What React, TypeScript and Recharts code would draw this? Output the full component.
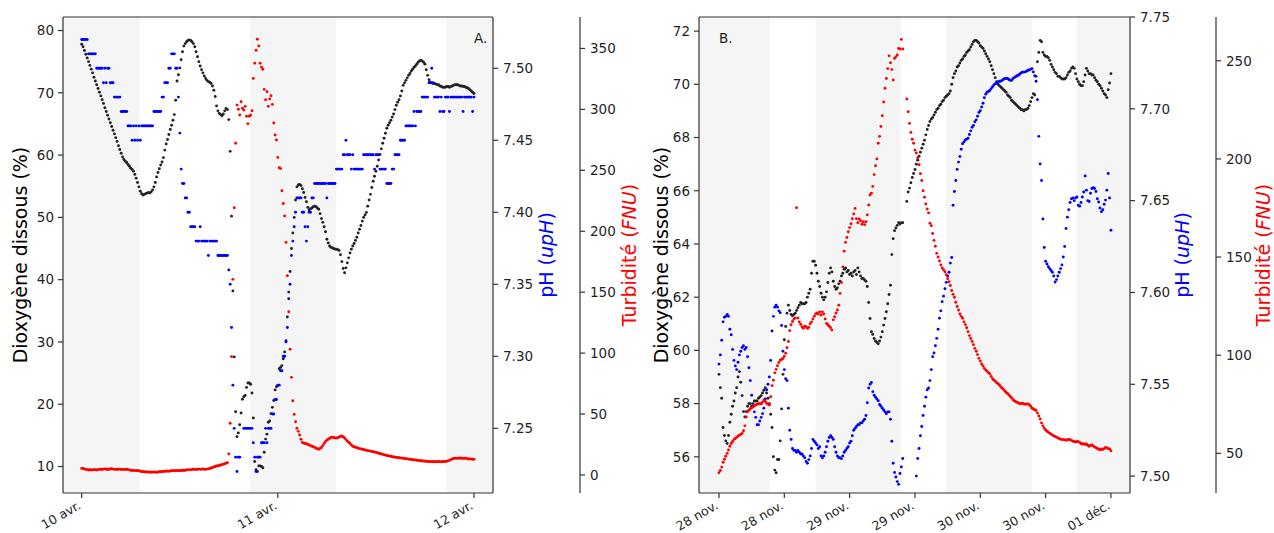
import React from "react";
import { ComposedChart, Scatter, XAxis, YAxis, ReferenceArea } from "recharts";

const FONT = "DejaVu Sans";
const INK = "#1f1f1f";
const FRAME = "#333";
const NIGHT = "#f5f5f5";

// ---- A : 10 -> 12 avril, one reading every 10 min (hours since 10 avr. 00:00)
const stepA = 1 / 6;
const o2A = [
  77.8, 77.4, 76.8, 76.2, 75.6, 75.0, 74.4, 73.8, 73.2, 72.5,
  71.9, 71.3, 70.7, 70.1, 69.5, 68.9, 68.3, 67.6, 67.0, 66.4,
  65.8, 65.2, 64.6, 64.0, 63.4, 62.8, 62.2, 61.5, 60.9, 60.3,
  59.7, 59.3, 59.0, 58.8, 58.5, 58.2, 57.9, 57.7, 57.4, 56.9,
  56.3, 55.6, 54.9, 54.2, 53.8, 53.6, 53.7, 53.8, 53.9, 54.0,
  53.9, 54.1, 54.4, 54.9, 55.6, 56.5, 57.2, 57.8, 58.4, 58.9,
  59.6, 60.8, 61.8, 62.5, 63.3, 64.1, 64.8, 65.6, 66.5, 68.8,
  71.9, 72.9, 74.0, 75.3, 76.6, 77.5, 77.9, 78.2, 78.4, 78.5,
  78.4, 78.2, 77.9, 77.4, 76.6, 75.8, 75.0, 74.3, 73.7, 73.2,
  72.7, 72.3, 72.0, 71.8, 71.7, 71.5, 71.1, 70.4, 69.4, 67.9,
  67.1, 66.7, 66.5, 66.3, 66.6, 67.1, 67.5, 67.3, 65.7, 60.6,
  50.2, 38.2, 27.6, 18.8, 14.8, 15.4, 16.7, 18.6, 20.8, 21.2,
  21.4, 22.7, 23.4, 23.4, 23.2, 21.8, 17.8, 10.8, 9.5, 9.2,
  10.1, 10.1, 10.0, 9.8, 12.3, 14.4, 15.2, 17.1, 17.3, 18.5,
  19.5, 20.6, 22.3, 22.8, 23.0, 25.7, 25.9, 26.2, 27.3, 28.4,
  30.2, 34.0, 38.0, 41.3, 45.0, 47.5, 50.0, 52.8, 54.9, 55.2,
  55.3, 55.1, 54.6, 54.0, 53.2, 52.5, 51.6, 51.2, 51.4, 51.5,
  51.7, 51.8, 51.7, 51.5, 51.3, 50.6, 49.8, 49.2, 48.5, 47.7,
  46.5, 45.9, 45.4, 45.2, 45.1, 45.0, 44.9, 44.9, 44.8, 44.7,
  44.0, 42.9, 41.8, 41.1, 41.9, 42.7, 43.5, 44.3, 44.9, 45.4,
  45.8, 46.3, 46.8, 47.5, 48.1, 48.7, 49.4, 50.0, 50.4, 50.8,
  51.8, 52.8, 53.7, 54.8, 55.8, 56.6, 57.4, 58.2, 59.2, 60.1,
  61.0, 61.9, 62.7, 63.5, 64.3, 64.8, 65.2, 65.6, 66.1, 66.6,
  67.3, 68.0, 68.5, 68.9, 69.5, 70.3, 71.2, 71.6, 72.0, 72.4,
  72.8, 73.1, 73.5, 73.8, 74.1, 74.3, 74.6, 74.9, 75.1, 75.2,
  75.1, 74.9, 74.6, 73.7, 72.8, 72.1, 71.7, 71.6, 71.5, 71.5,
  71.4, 71.3, 71.3, 71.1, 71.0, 70.9, 70.9, 70.9, 71.0, 71.0,
  70.9, 71.0, 71.1, 71.2, 71.3, 71.3, 71.3, 71.2, 71.1, 71.1,
  71.0, 71.0, 70.9, 70.8, 70.7, 70.5, 70.3, 70.1, 69.9,
];
const phA = [
  7.52, 7.52, 7.52, 7.52, 7.52, 7.51, 7.51, 7.51, 7.51, 7.51,
  7.51, 7.50, 7.50, 7.50, 7.50, 7.50, 7.49, 7.50, 7.49, 7.50,
  7.50, 7.49, 7.49, 7.49, 7.48, 7.48, 7.48, 7.48, 7.48, 7.47,
  7.47, 7.47, 7.47, 7.47, 7.46, 7.46, 7.46, 7.45, 7.46, 7.45,
  7.46, 7.45, 7.46, 7.45, 7.46, 7.46, 7.46, 7.46, 7.46, 7.46,
  7.46, 7.46, 7.46, 7.47, 7.47, 7.47, 7.47, 7.47, 7.47, 7.48,
  7.48, 7.49, 7.49, 7.49, 7.50, 7.50, 7.51, 7.51, 7.51, 7.50,
  7.50, 7.48, 7.455, 7.43, 7.42, 7.42, 7.41, 7.41, 7.40, 7.40,
  7.39, 7.39, 7.39, 7.39, 7.38, 7.38, 7.38, 7.39, 7.38, 7.38,
  7.38, 7.38, 7.38, 7.37, 7.38, 7.38, 7.38, 7.38, 7.38, 7.38,
  7.37, 7.37, 7.37, 7.37, 7.37, 7.37, 7.37, 7.37, 7.36, 7.35,
  7.32, 7.28, 7.25, 7.23, 7.22, 7.23, 7.23, null, null, 7.25,
  7.25, 7.25, 7.25, 7.25, 7.25, 7.25, 7.24, 7.23, 7.22, 7.23,
  7.23, 7.23, 7.24, 7.24, 7.24, 7.25, 7.24, 7.25, 7.25, 7.25,
  7.26, 7.26, 7.27, 7.27, 7.28, 7.28, 7.29, 7.29, 7.30, 7.30,
  7.31, 7.32, 7.34, 7.35, 7.37, 7.38, 7.39, 7.40, 7.41, 7.41,
  7.41, 7.41, 7.40, 7.40, 7.39, 7.38, 7.39, 7.40, 7.40, 7.41,
  7.41, 7.42, 7.42, 7.42, 7.42, 7.42, 7.42, 7.42, 7.42, 7.42,
  7.41, 7.42, 7.42, 7.42, 7.42, 7.42, 7.42, 7.43, 7.43, 7.43,
  7.43, 7.43, 7.44, 7.44, 7.45, 7.44, 7.44, 7.44, 7.43, 7.44,
  7.43, 7.43, 7.43, 7.43, 7.43, 7.43, 7.43, 7.44, 7.44, 7.44,
  7.44, 7.44, 7.44, 7.44, 7.44, 7.43, 7.44, 7.44, 7.44, 7.43,
  7.43, 7.43, 7.43, 7.43, 7.42, 7.42, 7.42, 7.42, 7.43, 7.43,
  7.44, 7.44, 7.44, 7.44, 7.45, 7.45, 7.45, 7.45, 7.46, 7.46,
  7.46, 7.46, 7.46, 7.46, 7.47, 7.46, 7.47, 7.47, 7.47, 7.47,
  7.48, 7.48, 7.48, 7.48, 7.48, 7.49, 7.49, 7.50, 7.49, 7.48,
  7.48, 7.48, 7.48, 7.47, 7.48, 7.47, 7.47, 7.48, 7.48, 7.48,
  7.47, 7.48, 7.48, 7.48, 7.48, 7.48, 7.48, 7.48, 7.48, 7.48,
  7.47, 7.48, 7.48, 7.48, 7.48, 7.48, 7.48, 7.47, 7.48,
];
const turbA = [
  5.4, 5.3, 4.9, 4.6, 4.3, 4.1, 4.3, 4.1, 4.2, 4.4,
  4.3, 4.1, 4.4, 4.6, 4.7, 4.5, 4.8, 5.0, 4.7, 4.5,
  4.7, 4.9, 5.1, 4.8, 4.6, 4.7, 4.5, 4.7, 4.8, 4.5,
  4.4, 4.6, 4.5, 4.7, 4.4, 4.2, 3.9, 3.7, 3.8, 3.6,
  3.5, 3.7, 3.4, 3.1, 2.9, 2.7, 2.6, 2.5, 2.4, 2.3,
  2.4, 2.2, 2.3, 2.5, 2.3, 2.1, 2.4, 2.7, 2.6, 2.9,
  2.8, 3.0, 3.2, 3.0, 3.1, 3.3, 3.5, 3.4, 3.6, 3.4,
  3.7, 3.6, 3.5, 3.7, 3.9, 3.7, 3.9, 4.1, 4.2, 4.4,
  4.2, 4.5, 4.7, 4.6, 4.4, 4.7, 4.8, 4.6, 4.7, 4.9,
  4.7, 4.6, 4.8, 5.0, 5.3, 5.7, 6.1, 6.5, 6.9, 7.4,
  7.5, 7.8, 8.2, 8.5, 8.8, 9.2, 9.6, 10.1, 17.3, 42.4,
  97.1, 160.5, 219.3, 272.2, 303.5, 300.1, 295.4, 306.3, 300.9, 299.4,
  302.5, 294.3, 288.2, 294.3, 295.4, 298.9, 325.4, 337.8, 348.5, 357.5,
  352.0, 337.8, 334.7, 332.9, 316.4, 307.9, 314.5, 302.5, 308.6, 311.2,
  304.1, 288.8, 279.0, 274.9, 260.6, 252.1, 251.4, 233.2, 222.8, 212.6,
  190.9, 163.5, 133.9, 103.2, 80.1, 60.9, 49.7, 43.7, 38.3, 35.8,
  32.8, 29.3, 26.6, 26.1, 25.8, 25.6, 25.0, 24.6, 24.1, 23.6,
  23.2, 22.7, 22.0, 21.5, 21.1, 21.8, 22.5, 24.1, 25.8, 27.4,
  28.6, 29.3, 30.0, 30.7, 30.9, 30.7, 30.4, 30.2, 30.6, 31.1,
  31.6, 32.0, 31.2, 30.3, 29.0, 27.8, 26.8, 25.8, 24.7, 23.5,
  23.1, 22.8, 22.4, 22.0, 21.6, 21.4, 21.1, 20.9, 20.5, 20.2,
  20.0, 19.8, 19.6, 19.3, 19.0, 18.8, 18.5, 18.2, 17.8, 17.5,
  17.2, 16.9, 16.6, 16.3, 16.0, 15.8, 15.5, 15.3, 15.0, 14.8,
  14.6, 14.4, 14.3, 14.1, 14.0, 13.8, 13.7, 13.5, 13.3, 13.2,
  13.0, 12.9, 12.7, 12.5, 12.4, 12.3, 12.1, 12.0, 11.8, 11.7,
  11.5, 11.4, 11.3, 11.2, 11.1, 11.0, 10.9, 11.0, 10.9, 10.8,
  10.9, 10.8, 11.0, 10.9, 10.8, 10.9, 11.0, 11.1, 11.3, 11.6,
  12.0, 12.6, 13.1, 13.5, 13.7, 13.8, 13.6, 13.8, 13.9, 13.7,
  13.6, 13.8, 13.6, 13.3, 13.1, 13.2, 13.0, 12.9, 12.9,
];
const nightsA = [[null, 7.1], [20.6, 31.1], [44.6, null]];
const dateTicksA = [0, 24, 48];
const dateLabelsA = ["10 avr.", "11 avr.", "12 avr."];
const o2TicksA = [10, 20, 30, 40, 50, 60, 70, 80];
const phTicksA = [7.25, 7.3, 7.35, 7.4, 7.45, 7.5];
const turbTicksA = [0, 50, 100, 150, 200, 250, 300, 350];

// ---- B : 28 nov. -> 01 déc., one reading every 15 min
const stepB = 0.25;
const o2B = [
  59.1, 58.6, 58.2, 57.1, 56.8, 56.6, 56.5, 56.8, 57.3, 57.6,
  57.9, 58.1, 58.4, 58.6, 59.0, 59.2, 58.8, 58.3, 57.7, 57.5,
  57.7, 57.9, 58.0, 58.0, 57.9, 58.0, 58.1, 58.1, 58.1, 58.2,
  58.25, 58.3, 58.4, 58.5, 58.6, 58.4, 58.2, 58.0, 57.6, 57.1,
  56.0, 55.5, 55.4, 55.9, 55.9, 56.6, 57.8, 59.1, 60.4, 60.9,
  61.4, 61.7, 61.5, 61.35, 61.3, 61.35, 61.4, 61.5, 61.6, 61.7,
  61.8, 61.75, 61.75, 61.75, 61.8, 62.0, 62.15, 62.3, 62.9, 63.35,
  63.35, 63.2, 62.9, 62.6, 62.4, 62.15, 62.0, 61.9, 62.0, 62.2,
  62.55, 62.9, 63.1, 62.95, 62.6, 62.4, 62.3, 62.35, 62.5, 62.6,
  62.8, 62.9, 63.05, 63.1, 62.95, 63.0, 62.85, 62.9, 62.8, 62.95,
  63.0, 62.85, 63.1, 62.95, 62.8, 62.7, 62.7, 62.65, 62.6, 62.4,
  61.8, 61.2, 60.7, 60.6, 60.45, 60.35, 60.3, 60.25, 60.35, 60.5,
  60.7, 60.95, 61.2, 61.45, 61.75, 62.1, 62.45, 63.6, 64.2, 64.5,
  64.6, 64.7, 64.8, 64.75, 64.8, 64.8, null, null, 65.6, 65.95,
  66.1, 66.3, 66.5, 66.65, 66.8, 67.0, 67.15, 67.3, 67.45, 67.6,
  67.75, 67.9, 68.1, 68.3, 68.45, 68.6, 68.7, 68.75, 68.85, 68.95,
  69.05, 69.1, 69.2, 69.25, 69.35, 69.4, 69.5, 69.55, 69.6, 69.65,
  69.75, 70.0, 70.25, 70.4, 70.5, 70.65, 70.7, 70.8, 70.9, 70.95,
  71.05, 71.1, 71.2, 71.25, 71.3, 71.4, 71.5, 71.6, 71.65, 71.65,
  71.6, 71.55, 71.45, 71.4, 71.35, 71.25, 71.15, 71.05, 70.95, 70.85,
  70.7, 70.55, 70.4, 70.25, 70.1, 70.0, 69.95, 69.9, 69.85, 69.8,
  69.75, 69.7, 69.6, 69.55, 69.5, 69.4, 69.35, 69.3, 69.25, 69.2,
  69.15, 69.1, 69.05, 69.05, 69.0, 69.05, 69.05, 69.1, 69.2, 69.35,
  69.5, 69.65, 69.6, 70.3, 70.85, 71.2, 71.65, 71.6, 71.2, 71.1,
  71.05, 71.05, 71.0, 70.9, 70.75, 70.65, 70.55, 70.45, 70.4, 70.3,
  70.3, 70.25, 70.2, 70.2, 70.2, 70.25, 70.35, 70.45, 70.5, 70.6,
  70.65, 70.6, 70.4, 70.2, 70.1, 70.0, 69.95, 69.95, 70.1, 70.35,
  70.6, 70.5, 70.4, 70.4, 70.35, 70.35, 70.25, 70.15, 70.1, 70.0,
  69.95, 69.85, 69.75, 69.65, 69.6, 69.5, 69.8, 70.05, 70.4,
];
const phB = [
  7.561, 7.566, 7.574, 7.584, 7.5865, 7.587, 7.588, 7.587, 7.58, 7.577,
  7.569, 7.563, 7.56, 7.558, 7.562, 7.566, 7.568, 7.57, 7.571, 7.569,
  7.57, 7.565, 7.559, 7.552, 7.544, 7.538, 7.535, 7.532, 7.528, 7.528,
  7.53, 7.532, 7.534, 7.537, 7.542, 7.547, 7.55, 7.554, 7.563, 7.579,
  7.587, 7.592, 7.593, 7.592, 7.59, 7.589, 7.582, 7.568, 7.558, 7.553,
  7.552, 7.537, 7.525, 7.52, 7.515, 7.514, 7.514, 7.513, 7.514, 7.513,
  7.512, 7.512, 7.511, 7.51, 7.508, 7.507, 7.509, 7.511, 7.515, 7.52,
  7.519, 7.518, 7.517, 7.515, 7.516, 7.511, 7.51, 7.511, 7.513, 7.516,
  7.519, 7.521, 7.522, 7.521, 7.52, 7.516, 7.513, 7.511, 7.51, 7.51,
  7.5095, 7.511, 7.513, 7.514, 7.515, 7.516, 7.518, 7.519, 7.522, 7.525,
  7.526, 7.527, 7.528, 7.528, 7.529, 7.529, 7.53, 7.531, 7.533, 7.54,
  7.548, 7.55, 7.551, 7.546, 7.544, 7.543, 7.542, 7.541, 7.539, 7.538,
  7.537, 7.536, 7.535, 7.534, 7.535, 7.535, 7.531, 7.519, 7.507, 7.502,
  7.4995, 7.497, 7.4955, 7.5014, 7.505, 7.5096, null, null, null, null,
  null, null, null, null, null, 7.5, 7.5096, 7.515, 7.522, 7.527,
  7.533, 7.538, 7.543, 7.547, 7.548, 7.552, 7.558, 7.565, 7.567, 7.571,
  7.575, 7.58, 7.586, 7.59, 7.595, 7.598, 7.602, 7.6055, 7.609, 7.611,
  7.616, 7.619, 7.6475, 7.655, 7.661, 7.667, 7.671, 7.674, 7.678, 7.681,
  7.682, 7.683, 7.6835, 7.684, 7.686, 7.688, 7.69, 7.691, 7.693, 7.694,
  7.696, 7.698, 7.699, 7.701, 7.703, 7.706, 7.708, 7.709, 7.7095, 7.71,
  7.711, 7.712, 7.713, 7.7137, 7.714, 7.7146, 7.715, 7.715, 7.7155, 7.716,
  7.7165, 7.7165, 7.7165, 7.716, 7.7155, 7.7155, 7.7165, 7.717, 7.7175, 7.718,
  7.7183, 7.719, 7.7195, 7.72, 7.72, 7.7201, 7.7205, 7.721, 7.7212, 7.7215,
  7.7219, 7.7201, 7.718, 7.715, 7.705, 7.685, 7.67, 7.661, 7.64, 7.6245,
  7.617, 7.6155, 7.614, 7.613, 7.612, 7.611, 7.609, 7.6057, 7.607, 7.609,
  7.611, 7.613, 7.615, 7.6193, 7.625, 7.6348, 7.641, 7.645, 7.649, 7.651,
  7.6515, 7.65, 7.6515, 7.652, 7.6475, 7.647, 7.649, 7.652, 7.6547, 7.6634,
  7.6557, 7.65, 7.6495, 7.654, 7.6566, 7.657, 7.6566, 7.655, 7.651, 7.6493,
  7.646, 7.644, 7.645, 7.648, 7.6503, 7.6557, 7.6648, 7.6515, 7.6339,
];
const turbB = [
  40.1, 41.3, 43.0, 45.5, 47.0, 48.5, 50.0, 51.7, 53.6, 55.0,
  56.0, 57.1, 57.6, 58.2, 58.8, 59.3, 59.6, 60.2, 61.5, 64.0,
  68.5, 71.2, 72.0, 72.7, 73.2, 73.6, 74.2, 74.6, 75.0, 75.3,
  75.4, 75.2, 76.0, 77.2, 76.5, 75.5, 75.0, 74.6, 78.8, 84.5,
  87.3, 91.0, 92.8, 94.6, 96.3, 97.5, 97.8, 98.3, 99.4, 101.0,
  103.8, 107.0, 112.5, 115.5, 117.2, 118.4, 119.0, 175.1, 119.0, 117.0,
  115.8, 114.5, 113.7, 114.8, 114.5, 113.7, 114.2, 116.0, 117.0, 118.5,
  119.8, 121.0, 121.5, 121.0, 122.1, 120.5, 122.1, 121.0, 118.5, 116.2,
  115.5, 114.8, 114.0, 112.8, 118.0, 119.6, 121.5, 123.0, 125.5, 131.5,
  137.0, 145.0, 153.0, 157.5, 160.0, 162.9, 165.0, 167.0, 169.5, 172.0,
  174.8, 169.5, 167.5, 169.4, 168.5, 166.7, 168.0, 166.5, 168.0, 171.5,
  176.5, 181.6, 182.5, 186.0, 192.0, 196.5, 200.0, 208.0, 211.5, 216.5,
  222.0, 229.0, 236.0, 241.0, 246.0, 252.5, 249.0, 245.5, 240.2, 251.2,
  252.0, 253.0, 256.3, 256.0, 260.9, 256.0, null, null, 230.5, 224.0,
  218.1, 213.5, 210.0, 208.0, 204.5, 203.0, 200.5, 197.0, 192.5, 189.0,
  183.8, 180.5, 177.0, 174.5, 172.5, 167.2, 166.0, 162.0, 158.5, 155.5,
  151.9, 150.0, 148.0, 146.0, 144.5, 143.5, 142.5, 141.0, 139.0, 137.4,
  135.5, 133.0, 131.0, 129.5, 127.0, 124.8, 123.0, 121.0, 119.8, 118.8,
  117.0, 115.6, 114.0, 112.0, 110.0, 108.5, 107.0, 105.3, 103.5, 102.0,
  100.3, 98.4, 97.0, 95.5, 94.5, 93.3, 92.4, 91.8, 91.0, 90.5,
  89.2, 88.0, 87.3, 86.8, 86.0, 85.5, 84.8, 84.0, 83.2, 82.6,
  81.8, 81.0, 80.5, 79.8, 79.0, 78.2, 77.3, 76.8, 76.3, 76.0,
  75.6, 75.4, 75.3, 75.5, 75.2, 75.0, 75.2, 75.1, 74.8, 74.0,
  73.0, 72.6, 72.3, 71.8, 70.5, 69.0, 67.5, 65.5, 64.0, 62.8,
  61.9, 61.3, 60.8, 60.3, 59.8, 59.3, 58.9, 58.6, 58.2, 57.9,
  57.5, 57.2, 57.1, 57.0, 56.9, 56.7, 56.9, 57.1, 56.9, 56.6,
  56.2, 56.0, 55.7, 56.1, 55.9, 55.6, 55.0, 54.6, 54.9, 54.5,
  54.8, 54.1, 53.6, 54.0, 54.3, 53.8, 53.2, 52.9, 52.5, 52.1,
  51.8, 52.2, 51.9, 52.4, 53.0, 52.8, 52.4, 52.3, 51.3,
];
const nightsB = [[null, 9.4], [17.75, 33.4], [41.7, 57.55], [65.75, null]];
const dateTicksB = [0, 12, 24, 36, 48, 60, 72];
const dateLabelsB = ["28 nov.", "28 nov.", "29 nov.", "29 nov.", "30 nov.", "30 nov.", "01 déc."];
const o2TicksB = [56, 58, 60, 62, 64, 66, 68, 70, 72];
const phTicksB = [7.5, 7.55, 7.6, 7.65, 7.7, 7.75];
const turbTicksB = [50, 100, 150, 200, 250];

function points(values, step) {
  const out = [];
  values.forEach((v, i) => {
    if (v != null) out.push({ t: i * step, v });
  });
  return out;
}

const dot = (fill) => (p) => <circle cx={p.cx} cy={p.cy} r={1.45} fill={fill} />;

function DateTick({ x, y, payload, ticks, labels }) {
  const label = labels[ticks.indexOf(payload.value)];
  const px = x;
  const py = y + 8;
  return (
    <text x={px} y={py} textAnchor="end" transform={`rotate(-30 ${px} ${py})`}
      fontSize={12.5} fontFamily={FONT} fill={INK}>
      {label}
    </text>
  );
}

const tickStyle = { fill: INK, fontSize: 13.5, fontFamily: FONT };
const line = { stroke: FRAME, strokeWidth: 1.2 };

function Panel(p) {
  return (
    <div style={{ position: "absolute", left: p.left, top: 0 }}>
      <ComposedChart width={p.width} height={533} margin={{ top: 16, right: 0, bottom: 0, left: 0 }}>
        <XAxis xAxisId="t" dataKey="t" type="number" domain={p.xDomain} allowDataOverflow
          ticks={p.dateTicks} interval={0} height={40} tickSize={5} tickMargin={2}
          tickLine={line} axisLine={line}
          tick={<DateTick ticks={p.dateTicks} labels={p.dateLabels} />} />
        <XAxis xAxisId="top" orientation="top" type="number" domain={p.xDomain} allowDataOverflow
          height={1} tick={false} tickLine={false} axisLine={line} />
        <YAxis yAxisId="o2" type="number" domain={p.o2Domain} allowDataOverflow ticks={p.o2Ticks}
          interval={0} width={p.o2W} tickSize={5} tickMargin={4} tick={tickStyle}
          tickLine={line} axisLine={line} />
        <YAxis yAxisId="ph" orientation="right" type="number" domain={p.phDomain} allowDataOverflow
          ticks={p.phTicks} interval={0} width={p.phW} tickSize={5} tickMargin={5} tick={tickStyle}
          tickLine={line} axisLine={line} tickFormatter={(v) => v.toFixed(2)} />
        <YAxis yAxisId="turb" orientation="right" type="number" domain={p.turbDomain} allowDataOverflow
          ticks={p.turbTicks} interval={0} width={p.turbW} tickSize={5} tickMargin={5} tick={tickStyle}
          tickLine={line} axisLine={line} />
        {p.nights.map(([a, b], k) => (
          <ReferenceArea key={k} xAxisId="t" yAxisId="o2" x1={a ?? p.xDomain[0]} x2={b ?? p.xDomain[1]}
            fill={NIGHT} fillOpacity={1} stroke="none" />
        ))}
        <Scatter xAxisId="t" yAxisId="o2" data={points(p.o2, p.step)} dataKey="v"
          shape={dot("#222")} isAnimationActive={false} />
        <Scatter xAxisId="t" yAxisId="ph" data={points(p.ph, p.step)} dataKey="v"
          shape={dot("#0000ff")} isAnimationActive={false} />
        <Scatter xAxisId="t" yAxisId="turb" data={points(p.turb, p.step)} dataKey="v"
          shape={dot("#ff0000")} isAnimationActive={false} />
      </ComposedChart>
    </div>
  );
}

function Title({ x, children, fill = "#000" }) {
  return (
    <text transform={`translate(${x} 255) rotate(-90)`} textAnchor="middle" fontSize={19}
      fontFamily={FONT} fill={fill}>
      {children}
    </text>
  );
}

export default function App() {
  return (
    <div style={{ position: "fixed", left: 0, top: 0, width: 1274, height: 533, background: "#fff" }}>
      <Panel left={0} width={640} step={stepA} o2={o2A} ph={phA} turb={turbA}
        xDomain={[-2.29, 50.33]} nights={nightsA} dateTicks={dateTicksA} dateLabels={dateLabelsA}
        o2Domain={[5.75, 82.17]} o2Ticks={o2TicksA} phDomain={[7.2051, 7.5356]} phTicks={phTicksA}
        turbDomain={[-14.8, 375.8]} turbTicks={turbTicksA} o2W={63} phW={87} turbW={60} />
      <Panel left={640} width={634} step={stepB} o2={o2B} ph={phB} turb={turbB}
        xDomain={[-3.67, 75.5]} nights={nightsB} dateTicks={dateTicksB} dateLabels={dateLabelsB}
        o2Domain={[54.64, 72.53]} o2Ticks={o2TicksB} phDomain={[7.4908, 7.75]} phTicks={phTicksB}
        turbDomain={[29.8, 272.3]} turbTicks={turbTicksB} o2W={59} phW={86} turbW={58} />
      <svg width={1274} height={533} style={{ position: "absolute", left: 0, top: 0, pointerEvents: "none" }}>
        <Title x={27}>Dioxygène dissous (%)</Title>
        <Title x={553} fill="#0000ff">pH (<tspan fontStyle="italic">upH</tspan>)</Title>
        <Title x={636} fill="#ff0000">Turbidité (<tspan fontStyle="italic">FNU</tspan>)</Title>
        <Title x={668}>Dioxygène dissous (%)</Title>
        <Title x={1189} fill="#0000ff">pH (<tspan fontStyle="italic">upH</tspan>)</Title>
        <Title x={1270} fill="#ff0000">Turbidité (<tspan fontStyle="italic">FNU</tspan>)</Title>
        <text x={474} y={43} fontSize={13.5} fontFamily={FONT} fill={INK}>A.</text>
        <text x={719} y={43} fontSize={13.5} fontFamily={FONT} fill={INK}>B.</text>
      </svg>
    </div>
  );
}
